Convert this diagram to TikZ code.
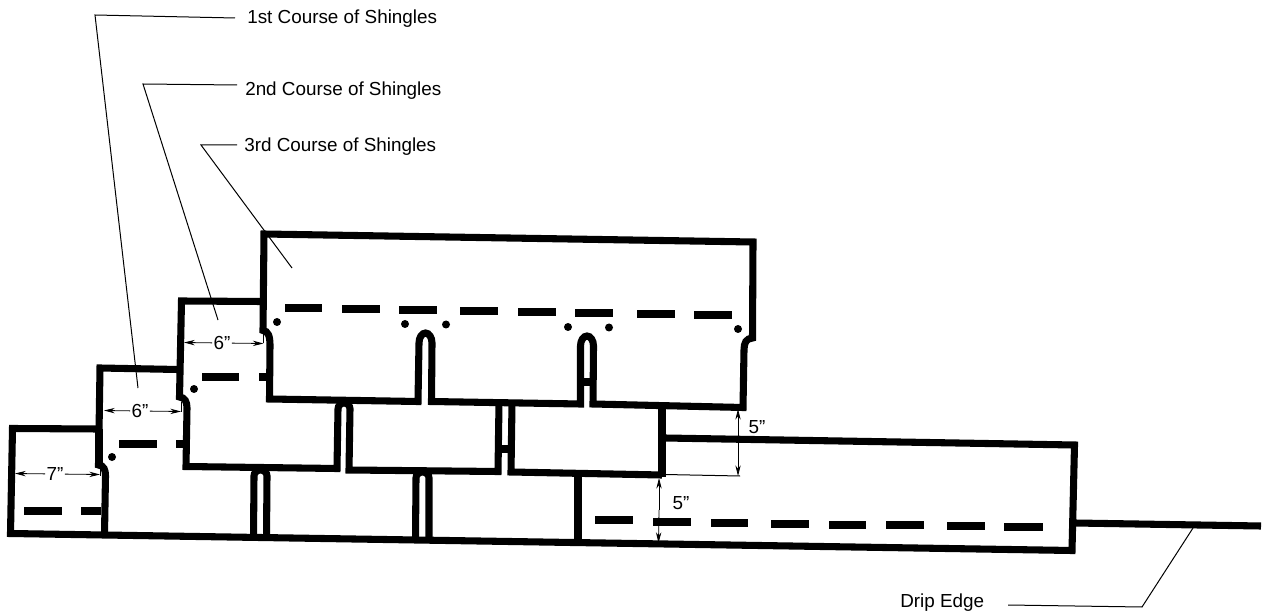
\documentclass[tikz,border=0pt]{standalone}
\usepackage{fontspec}
\setmainfont{Liberation Sans}
\usetikzlibrary{arrows.meta}
\newcommand{\qq}{\char34 }
\tikzset{
  heavy/.style={line width=5.3pt,line cap=butt,line join=miter,black},
  dashbar/.style={line width=6pt,line cap=butt,black},
  thinline/.style={line width=0.75pt,black},
  dim/.style={line width=0.6pt,black,-{Stealth[length=8pt,width=4pt]}},
  lab/.style={font=\fontsize{14.15pt}{16pt}\selectfont,inner sep=0pt,anchor=west,text=black},
  dimlab/.style={font=\fontsize{14.15pt}{16pt}\selectfont,inner sep=1pt,text=black},
  nail/.style={fill=black,draw=none}
}
\begin{document}
\begin{tikzpicture}[x=0.75pt,y=-0.75pt]
\useasboundingbox (0,0) rectangle (1263,616);
% bottom edge and far-left shingle
\draw[heavy] (99,429) -- (12.5,428.5) -- (10.5,533.5) -- (1072,550.5) -- (1074.5,445) -- (665,438);
\draw[heavy] (99,429) -- (99,465);
% drip edge
\draw[heavy] (1075,523) -- (1261,526);
% 1st course
\draw[heavy] (178,369.5) -- (100,368) -- (98.5,465) .. controls (104,465.5) and (105.5,470) .. (105.5,476) -- (104.5,534);
% 2nd course
\draw[heavy] (262,301.5) -- (181.5,301) -- (179.5,397) .. controls (185,397.5) and (187,402) .. (187,408) -- (186,466.5) -- (337,468.5)
  -- (338,409) arc[start angle=180,end angle=360,x radius=6,y radius=6] -- (349,470) -- (498,471.5)
  -- (499,403);
\draw[heavy] (512,403) -- (511,472) -- (662,475);
\draw[heavy] (498.5,449) -- (511.5,449);
\draw[heavy] (662,406) -- (662,477);
% 3rd course
\draw[heavy] (264,234) -- (753,242) -- (752.5,338) .. controls (746,338.5) and (744,343) .. (744,350) -- (743,407.5)
  -- (593,404) -- (593.5,346) arc[start angle=0,end angle=-180,x radius=6.5,y radius=10] -- (580.5,404) -- (431.5,401.5)
  -- (432,343) arc[start angle=0,end angle=-180,x radius=6.5,y radius=10] -- (418,401.5) -- (269.5,399)
  -- (270,345) .. controls (270,336) and (268,331) .. (263,330.5) -- cycle;
\draw[heavy] (581,382) -- (593,382);
% 1st-course slots and joint
\draw[heavy] (253.5,538) -- (254,476) arc[start angle=180,end angle=360,x radius=6.5,y radius=6] -- (266.5,538);
\draw[heavy] (415.5,540) -- (416,478) arc[start angle=180,end angle=360,x radius=6.5,y radius=6] -- (429,540);
\draw[heavy] (578,477) -- (578,542);
% nail lines
\foreach \a/\b/\y in {285/322/308,342/380/308.8,399/437/310.5,460/498/311,518/556/312,575/613/313,637/675/314,694/732/315,
  202/239/377,259/267/377,119/157/444,176/183/444,24/62/511,81/101/511,
  595/633/520,653/691/522,711/748/522.5,771/809/523.5,829/866/524.5,886/924/525,947/985/526,1004/1043/527}
  \draw[dashbar] (\a,\y) -- (\b,\y);
% nails
\foreach \x/\y in {112/457,194/389,277/322,405/324,446/324.5,568/327,609/327.5,738/329}
  \fill[nail] (\x,\y) circle[radius=4];
% leaders and labels
\node[lab] (l1) at (247,19) {1st Course of Shingles};
\node[lab] (l2) at (245,91) {2nd Course of Shingles};
\node[lab] (l3) at (244,147) {3rd Course of Shingles};
\node[lab] (l4) at (900,603) {Drip Edge};
\coordinate (s1) at (235,18); \coordinate (c1) at (95,15); \coordinate (e1) at (138,388);
\coordinate (s2) at (237,85); \coordinate (c2) at (143,84); \coordinate (e2) at (218,320);
\coordinate (s3) at (237,145); \coordinate (c3) at (201,145); \coordinate (e3) at (292,268);
\coordinate (s4) at (1008,605); \coordinate (c4) at (1142,607); \coordinate (e4) at (1193,528);
\draw[thinline] (s1) -- (c1) -- (e1);
\draw[thinline] (s2) -- (c2) -- (e2);
\draw[thinline] (s3) -- (c3) -- (e3);
\draw[thinline] (s4) -- (c4) -- (e4);
% dimensions
\node[dimlab] (d1) at (222,343) {6\qq};
\coordinate (d1l) at (184,342.5); \coordinate (d1r) at (263.5,343.5);
\draw[dim] (d1) -- (d1l); \draw[dim] (d1) -- (d1r);
\node[dimlab] (d2) at (140,411) {6\qq};
\coordinate (d2l) at (104,410.5); \coordinate (d2r) at (181,411.5);
\draw[dim] (d2) -- (d2l); \draw[dim] (d2) -- (d2r);
\node[dimlab] (d3) at (55,474) {7\qq};
\coordinate (d3l) at (15,473.5); \coordinate (d3r) at (100,474.5);
\draw[dim] (d3) -- (d3l); \draw[dim] (d3) -- (d3r);
\coordinate (t1) at (738,409); \coordinate (t2) at (738,476);
\draw[dim] (738,441) -- (t1); \draw[dim] (738,441) -- (t2);
\coordinate (x1) at (665,474.5); \coordinate (x2) at (740,476);
\draw[thinline] (x1) -- (x2);
\node[dimlab] (d4) at (757,427) {5\qq};
\coordinate (b1) at (659,478); \coordinate (b2) at (658.5,543);
\draw[dim] (659,510) -- (b1); \draw[dim] (659,510) -- (b2);
\node[dimlab] (d5) at (681,503) {5\qq};
\draw[thinline] (263.5,333) -- (263.5,343) (181,402) -- (181,412) (100,469) -- (100,476);
\end{tikzpicture}
\end{document}
